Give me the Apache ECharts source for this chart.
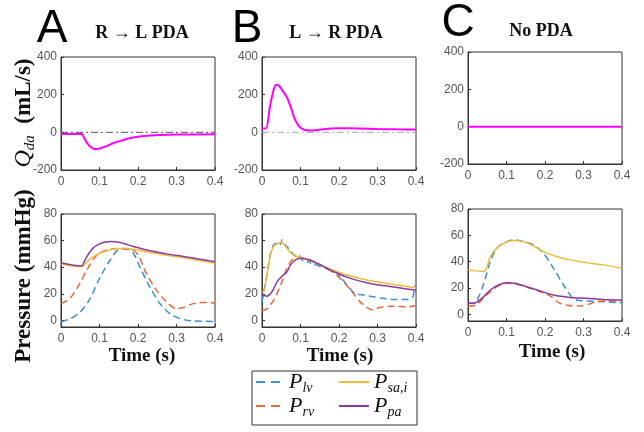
<!DOCTYPE html>
<html>
<head>
<meta charset="utf-8">
<script src="https://cdn.jsdelivr.net/npm/echarts@6/dist/echarts.min.js"></script>
<style>
  html, body { margin: 0; padding: 0; background: #fff; }
  #chart { width: 644px; height: 432px; }
</style>
</head>
<body>
<div id="chart"></div>
<script>
// flow through the ductus, [t (s), Q (mL/s)]
const qA = [[0,-9],[0.054,-9],[0.06,-30],[0.07,-62],[0.08,-82],[0.088,-89],[0.1,-86],[0.12,-72],[0.135,-58],[0.16,-42],[0.187,-28],[0.23,-17],[0.3,-12],[0.4,-10]];
const qB = [[0,21],[0.0104,21],[0.02,130],[0.03,225],[0.037,253],[0.045,246],[0.055,216],[0.065,185],[0.075,132],[0.085,72],[0.095,36],[0.105,18],[0.115,11],[0.13,10],[0.15,14],[0.18,20],[0.2,22],[0.25,21],[0.3,18],[0.35,16],[0.4,15]];
const qC = [[0,0],[0.4,0]];
const zeroRef = [[0,0],[0.4,0]];

// pressures, [t (s), P (mmHg)]
const A_lv = [[0,-1],[0.023,1],[0.049,6],[0.075,16],[0.1,31.5],[0.127,45],[0.149,53],[0.17,53.5],[0.188,50.5],[0.205,40],[0.231,25],[0.257,12.6],[0.283,5],[0.309,1.3],[0.344,-0.5],[0.4,-0.8]];
const A_rv = [[0,12.6],[0.023,16.4],[0.049,27.8],[0.067,37.9],[0.093,49],[0.119,53],[0.145,54],[0.171,54],[0.197,50.5],[0.222,35],[0.248,22.7],[0.274,13.9],[0.3,8.8],[0.318,9.6],[0.344,12.6],[0.37,13.4],[0.4,13.1]];
const A_sa = [[0,42.4],[0.054,40.4],[0.067,44],[0.084,48],[0.1,50.5],[0.127,53],[0.153,54],[0.188,53.5],[0.231,51],[0.274,49],[0.318,47],[0.361,45],[0.4,43]];
const A_pa = [[0,43.4],[0.054,41],[0.06,44],[0.067,48],[0.084,54.5],[0.1,57.5],[0.115,59],[0.13,59.3],[0.153,58.6],[0.188,55.5],[0.231,52.3],[0.274,50],[0.318,48],[0.361,46],[0.4,44]];

const B_lv = [[0,13.9],[0.004,20],[0.013,35],[0.022,50.5],[0.03,56.8],[0.043,59],[0.048,57],[0.052,60.6],[0.057,57.5],[0.061,56.8],[0.066,55],[0.074,53],[0.08,50],[0.087,48.5],[0.092,47.5],[0.097,49],[0.104,45.5],[0.11,44],[0.117,43.4],[0.122,45],[0.128,42],[0.134,42.4],[0.152,40.4],[0.177,37.9],[0.195,35.9],[0.221,26.5],[0.242,19.7],[0.255,19.4],[0.281,18.2],[0.307,16.9],[0.342,15.7],[0.377,15.7],[0.392,17.7],[0.398,26.5]];
const B_rv = [[0,7],[0.013,8.8],[0.03,15],[0.043,22.7],[0.052,29],[0.061,36.6],[0.074,44],[0.087,46.7],[0.104,46.7],[0.126,45.5],[0.152,41.7],[0.186,35.9],[0.212,29],[0.238,20],[0.255,13.9],[0.273,9.6],[0.286,8],[0.307,9.6],[0.342,10.6],[0.377,10.1],[0.4,11.4]];
const B_sa = [[0,21.5],[0.004,21.5],[0.013,35],[0.022,49],[0.03,55.5],[0.043,58],[0.052,58.6],[0.065,54],[0.082,49],[0.108,46.7],[0.152,41.7],[0.195,36.6],[0.238,32.8],[0.281,29.8],[0.325,27.8],[0.368,25.8],[0.4,24.5]];
const B_pa = [[0,19],[0.013,18.2],[0.026,21.5],[0.039,29],[0.052,33.3],[0.065,36.6],[0.074,41.7],[0.087,45.5],[0.104,46.7],[0.126,45],[0.152,41.7],[0.195,35.4],[0.238,30.8],[0.281,27.8],[0.325,25.8],[0.368,24],[0.4,22.7]];

const C_lv = [[0,8.4],[0.015,8.4],[0.028,13.5],[0.041,23.6],[0.058,40],[0.075,50.3],[0.097,54.8],[0.118,56.6],[0.144,55.3],[0.17,52.8],[0.196,46.4],[0.222,35],[0.248,22.3],[0.269,13.5],[0.282,10.9],[0.308,10.2],[0.351,9.6],[0.4,8.9]];
const C_rv = [[0,6.3],[0.019,7.1],[0.036,10.9],[0.058,17.3],[0.079,21.6],[0.101,23.6],[0.122,23.1],[0.153,20.6],[0.187,17.3],[0.213,14],[0.239,8.4],[0.265,6.6],[0.291,6.3],[0.312,7.6],[0.334,9.6],[0.368,10.2],[0.4,10.2]];
const C_sa = [[0,33.8],[0.041,32.5],[0.058,43.9],[0.075,50.3],[0.097,54.6],[0.118,56.1],[0.135,55.8],[0.161,53.3],[0.196,47.7],[0.23,43.9],[0.265,41.4],[0.308,39.3],[0.351,37.6],[0.4,35]];
const C_pa = [[0,8.4],[0.019,8.9],[0.036,12.2],[0.058,18.5],[0.079,22.3],[0.101,24.1],[0.122,23.6],[0.153,21],[0.187,17.8],[0.222,14.7],[0.265,12.9],[0.308,12.2],[0.351,11.4],[0.4,10.9]];

const panelLetters = ['A', 'B', 'C'];
const panelTitles = ['R \u2192 L PDA', 'L \u2192 R PDA', 'No PDA'];
const subscripts = { 'P_lv': 'lv', 'P_rv': 'rv', 'P_sa,i': 'sa,i', 'P_pa': 'pa' };

const colors = { lv: '#3a8fd6', rv: '#e8683c', sa: '#f2b93b', pa: '#8b3a9e', q: '#ff00ff' };

var chart = echarts.init(document.getElementById('chart'), null, { renderer: 'canvas' });

// grid boxes: [left, top, width, height]
const boxes = [
    [61, 57, 154, 113], [262, 57, 154, 113], [468, 52, 154, 112],
    [61, 214, 154, 113], [262, 214, 154, 113], [468, 209, 154, 112]
];

const grids = [], xAxes = [], yAxes = [], series = [];

boxes.forEach(function (b, i) {
    grids.push({
        left: b[0], top: b[1], width: b[2], height: b[3],
        show: true, borderColor: '#333', borderWidth: 1, backgroundColor: '#fff',
        outerBoundsMode: 'none'
    });
    xAxes.push({
        gridIndex: i, type: 'value', min: 0, max: 0.4, interval: 0.1,
        axisLine: { show: true, onZero: false, lineStyle: { color: '#333', width: 1 } },
        axisTick: { show: true, inside: true, length: 3, lineStyle: { color: '#333' } },
        axisLabel: { color: '#555', fontFamily: 'Liberation Sans', fontSize: 12, margin: 6 },
        splitLine: { show: false }
    });
    const top = i < 3;
    yAxes.push(Object.assign({
        gridIndex: i, type: 'value',
        axisLine: { show: true, lineStyle: { color: '#333', width: 1 } },
        axisTick: { show: true, inside: true, length: 3, lineStyle: { color: '#333' } },
        axisLabel: { color: '#555', fontFamily: 'Liberation Sans', fontSize: 12, margin: 4, showMinLabel: top },
        splitLine: { show: false }
    }, top ? { min: -200, max: 400, interval: 200 } : { min: -5, max: 80, splitNumber: 4 }));
});

function line(name, idx, data, color, dash, width, smooth) {
    series.push({
        name: name, type: 'line', xAxisIndex: idx, yAxisIndex: idx, data: data,
        showSymbol: false, symbol: 'none', smooth: smooth, silent: true,
        lineStyle: { color: color, width: width, type: dash || 'solid' },
        itemStyle: { color: color }
    });
}

// top row: flow
line('zeroA', 0, zeroRef, '#555', [7, 3, 2, 3], 1, false);
line('zeroB', 1, zeroRef, '#aaa', [7, 3, 2, 3], 1, false);
line('Q', 0, qA, colors.q, null, 2, 0.3);
line('Q', 1, qB, colors.q, null, 2, 0.3);
line('Q', 2, qC, colors.q, null, 2, false);

// bottom row: pressures
const pressures = [[A_lv, A_rv, A_sa, A_pa], [B_lv, B_rv, B_sa, B_pa], [C_lv, C_rv, C_sa, C_pa]];
pressures.forEach(function (set, p) {
    const idx = p + 3;
    line('P_lv', idx, set[0], colors.lv, [7, 4], 1.5, p === 1 ? 0.1 : 0.3);
    line('P_rv', idx, set[1], colors.rv, [7, 4], 1.5, 0.3);
    line('P_sa,i', idx, set[2], colors.sa, null, 1.5, 0.3);
    line('P_pa', idx, set[3], colors.pa, null, 1.5, 0.3);
});

const serif = 'Liberation Serif';
const legendRich = {
    p: { fontFamily: serif, fontStyle: 'italic', fontSize: 22, color: '#111', lineHeight: 22 },
    s: { fontFamily: serif, fontStyle: 'italic', fontSize: 14, color: '#111', verticalAlign: 'bottom', lineHeight: 26 }
};
function legendLabel(name) { return '{p|P}{s|' + subscripts[name] + '}'; }

const graphics = [
    { type: 'rect', shape: { x: 252, y: 371, width: 165, height: 54 }, style: { fill: '#fff', stroke: '#333', lineWidth: 1 }, z: -1 }
];
const letterPos = [[52, 52], [247, 52], [458, 46]];
const titlePos = [[142, 42], [336, 42], [541, 40]];
panelLetters.forEach(function (l, i) {
    graphics.push({ type: 'text', x: letterPos[i][0], y: letterPos[i][1],
        style: { text: l, font: '46px "Liberation Sans"', fill: '#000', textAlign: 'center', textVerticalAlign: 'bottom' } });
    graphics.push({ type: 'text', x: titlePos[i][0], y: titlePos[i][1],
        style: { text: panelTitles[i], font: 'bold 18px "Liberation Serif"', fill: '#111', textAlign: 'center', textVerticalAlign: 'bottom' } });
});
const timePos = [[142, 356], [340, 356], [552, 352]];
timePos.forEach(function (pt) {
    graphics.push({ type: 'text', x: pt[0], y: pt[1],
        style: { text: 'Time (s)', font: 'bold 19px "Liberation Serif"', fill: '#111', textAlign: 'center', textVerticalAlign: 'middle' } });
});
graphics.push({ type: 'text', x: 24, y: 113, rotation: Math.PI / 2,
    style: { text: '{q|Q}{d|da}{n|  (mL/s)}', textAlign: 'center', textVerticalAlign: 'middle',
        rich: {
            q: { fontFamily: serif, fontStyle: 'italic', fontSize: 24, fill: '#111', lineHeight: 24 },
            d: { fontFamily: serif, fontStyle: 'italic', fontSize: 15, fill: '#111', verticalAlign: 'bottom', lineHeight: 28 },
            n: { fontFamily: serif, fontWeight: 'bold', fontSize: 23, fill: '#111', lineHeight: 24 }
        } } });
graphics.push({ type: 'text', x: 24, y: 276, rotation: Math.PI / 2,
    style: { text: 'Pressure (mmHg)', font: 'bold 23px "Liberation Serif"', fill: '#111', textAlign: 'center', textVerticalAlign: 'middle' } });

const legendBase = {
    orient: 'vertical', top: 371, padding: 0, itemGap: 0, itemWidth: 28, itemHeight: 12,
    formatter: legendLabel, selectedMode: false,
    itemStyle: { opacity: 0 },
    textStyle: { rich: legendRich }
};
const dashIcon = { type: [9, 6] };

var option = {
    animation: false,
    backgroundColor: '#fff',
    grid: grids,
    xAxis: xAxes,
    yAxis: yAxes,
    legend: [
        Object.assign({}, legendBase, { left: 255, data: [
            { name: 'P_lv', lineStyle: dashIcon }, { name: 'P_rv', lineStyle: dashIcon }] }),
        Object.assign({}, legendBase, { left: 338, itemWidth: 30, data: ['P_sa,i', 'P_pa'] })
    ],
    graphic: graphics,
    series: series
};
option && chart.setOption(option);
</script>
</body>
</html>
